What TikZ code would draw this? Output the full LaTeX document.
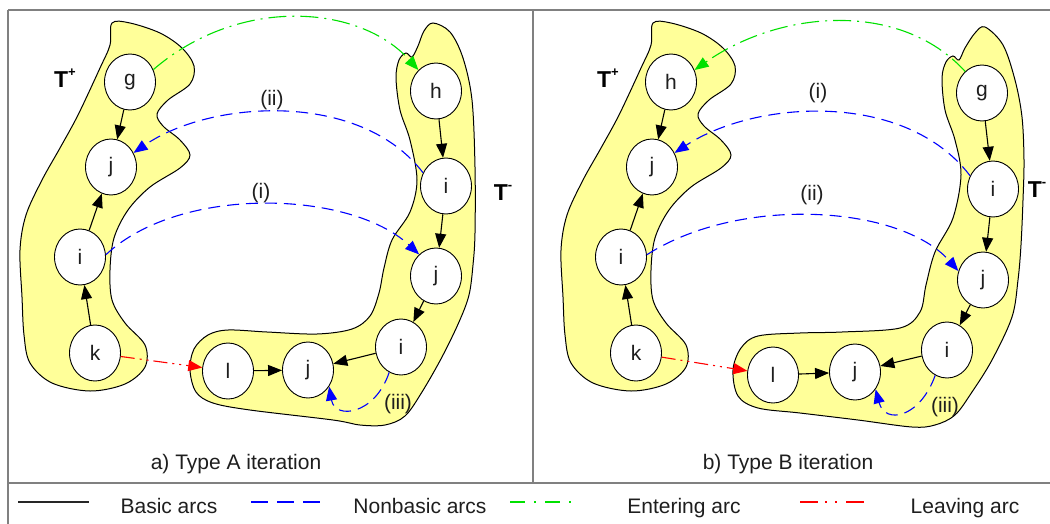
\documentclass[tikz,border=0pt]{standalone}
\usepackage{fontspec}
\setmainfont{Liberation Sans}
\usetikzlibrary{arrows.meta,shapes.geometric}
\definecolor{blobfill}{RGB}{255,255,153}
\definecolor{framegray}{RGB}{128,128,128}
\definecolor{txtc}{RGB}{30,30,30}
\definecolor{arcblue}{RGB}{0,0,255}
\definecolor{arcgreen}{RGB}{0,225,0}
\definecolor{arcred}{RGB}{255,0,0}
\tikzset{
  nd/.style={ellipse, draw, line width=0.9pt, fill=white, minimum width=51pt, minimum height=56pt, inner sep=0pt, font=\fontsize{21}{24}\selectfont, text=txtc},
  blob/.style={draw, line width=1pt, fill=blobfill},
  tip/.style={-{Triangle[length=14pt,width=11pt]}},
  basic/.style={line width=1.1pt, tip},
  nonbasic/.style={line width=1.1pt, arcblue, dash pattern=on 12pt off 7pt, tip},
  entering/.style={line width=1.1pt, arcgreen, dash pattern=on 18pt off 6pt on 2pt off 6pt, tip},
  leaving/.style={line width=1.1pt, arcred, dash pattern=on 14pt off 5pt on 2pt off 5pt on 2pt off 5pt, tip},
  lbl/.style={font=\fontsize{21}{24}\selectfont, text=txtc, inner sep=0pt},
  tlbl/.style={font=\fontsize{23}{24}\selectfont\bfseries, inner sep=0pt},
  frameline/.style={framegray, line width=2pt},
}
\newcommand{\Tplus}{T\raisebox{0.5em}{\fontsize{13}{13}\selectfont\bfseries +}}
\newcommand{\Tminus}{T\raisebox{0.5em}{\fontsize{13}{13}\selectfont\bfseries -}}
\begin{document}
\begin{tikzpicture}[x=1pt,y=-1pt]
\useasboundingbox (0,0) rectangle (1050,523);
% frame
\draw[frameline] (8,10) -- (1052,10);
\draw[frameline] (8,10) -- (8,525);
\draw[frameline] (533,10) -- (533,483);
\draw[frameline] (8,483) -- (1052,483);

% ---------- blobs ----------
\def\tplusblob{(112,23) (130,23) (160,33) (182,48) (194,66) (190,84) (168,100) (157,114) (163,126) (180,140) (190,155) (180,168) (150,187) (128,210) (114,238) (110,270) (112,300) (125,323) (145,345) (145,367) (125,384) (90,391) (52,383) (30,363) (24,335) (22,297) (20,250) (26,215) (42,180) (60,148) (78,115) (100,68) (110,45)}
\path[blob] plot[smooth cycle, tension=0.55] coordinates {\tplusblob};
\begin{scope}[xshift=541pt]
\path[blob] plot[smooth cycle, tension=0.55] coordinates {\tplusblob};
\end{scope}
% left panel T-
\path[blob] plot[smooth cycle, tension=0.55] coordinates {(433,23) (450,32) (463,58) (472,100) (475,167) (475,233) (473,265) (469,295) (459,322) (442,357) (422,392) (405,416) (385,425) (360,425) (333,420) (250,410) (213,403) (196,392) (190,370) (194,349) (208,335) (228,330) (267,332) (317,334) (352,329) (370,316) (379,293) (384,268) (392,240) (410,212) (417,180) (410,140) (400,110) (396,78) (399,60) (406,53) (412,57) (418,46) (424,31)};
% right panel T-
\path[blob] plot[smooth cycle, tension=0.55] coordinates {(985,27) (1003,45) (1015,80) (1022,117) (1024,160) (1023,200) (1021,245) (1018,280) (1012,317) (992,360) (972,392) (955,415) (935,425) (912,427) (858,420) (800,413) (758,408) (738,396) (733,370) (741,348) (758,336) (800,333) (842,332) (900,328) (920,312) (926,285) (935,252) (953,218) (961,175) (955,140) (945,110) (942,78) (946,62) (953,56) (959,60) (965,48) (975,33)};

% ---------- left panel nodes ----------
\node[nd] (ag)  at (130,82)  {g};
\node[nd] (aj1) at (111,167) {j};
\node[nd] (ai1) at (80,257)  {i};
\node[nd] (ak)  at (95,353)  {k};
\node[nd] (ah)  at (436,91)  {h};
\node[nd] (ai2) at (446,186) {i};
\node[nd] (aj2) at (436,276) {j};
\node[nd] (ai3) at (401,347) {i};
\node[nd] (aj3) at (308,370) {j};
\node[nd] (al)  at (228,371) {l};

\draw[basic] (ag) -- (aj1);
\draw[basic] (ai1) -- (aj1);
\draw[basic] (ak) -- (ai1);
\draw[basic] (ah) -- (ai2);
\draw[basic] (ai2) -- (aj2);
\draw[basic] (aj2) -- (ai3);
\draw[basic] (ai3) -- (aj3);
\draw[basic] (al) -- (aj3);

\draw[entering] (ag.28) .. controls (240,-5) and (360,5) .. (ah.130);
\draw[nonbasic] (ai2.150) .. controls (360,90) and (210,100) .. (aj1.32);
\draw[nonbasic] (ai1.5) .. controls (180,185) and (350,190) .. (aj2.128);
\draw[leaving] (ak) -- (al);
\draw[nonbasic] (ai3.-115) .. controls (375,415) and (335,420) .. (aj3.-38);

\node[tlbl] (atp) at (65,78) {\Tplus};
\node[tlbl] (atm) at (503,193) {\Tminus};
\node[lbl] (aii) at (272,100) {(ii)};
\node[lbl] (ai)  at (261,193) {(i)};
\node[lbl] (aiii) at (398,404) {(iii)};
\node[lbl, anchor=base] (acap) at (236,469) {a) Type A iteration};

% ---------- right panel nodes ----------
\node[nd] (bh)  at (671,82)  {h};
\node[nd] (bj1) at (652,167) {j};
\node[nd] (bi1) at (621,257) {i};
\node[nd] (bk)  at (636,353) {k};
\node[nd] (bg)  at (982,93)  {g};
\node[nd] (bi2) at (993,189) {i};
\node[nd] (bj2) at (983,280) {j};
\node[nd] (bi3) at (947,350) {i};
\node[nd] (bj3) at (855,372) {j};
\node[nd] (bl)  at (773,375) {l};

\draw[basic] (bh) -- (bj1);
\draw[basic] (bi1) -- (bj1);
\draw[basic] (bk) -- (bi1);
\draw[basic] (bg) -- (bi2);
\draw[basic] (bi2) -- (bj2);
\draw[basic] (bj2) -- (bi3);
\draw[basic] (bi3) -- (bj3);
\draw[basic] (bl) -- (bj3);

\draw[entering] (bg.128) .. controls (900,0) and (780,10) .. (bh.27);
\draw[nonbasic] (bi2.150) .. controls (905,90) and (755,100) .. (bj1.32);
\draw[nonbasic] (bi1.5) .. controls (740,195) and (900,205) .. (bj2.160);
\draw[leaving] (bk) -- (bl);
\draw[nonbasic] (bi3.-115) .. controls (920,418) and (885,425) .. (bj3.-40);

\node[tlbl] (btp) at (608,78) {\Tplus};
\node[tlbl] (btm) at (1037,190) {\Tminus};
\node[lbl] (bi)   at (818,93) {(i)};
\node[lbl] (bii)  at (812,195) {(ii)};
\node[lbl] (biii) at (945,407) {(iii)};
\node[lbl, anchor=base] (bcap) at (788,469) {b) Type B iteration};

% ---------- legend ----------
\coordinate (l1a) at (18,502);  \coordinate (l1b) at (89,502);
\coordinate (l2a) at (251,502); \coordinate (l2b) at (321,502);
\coordinate (l3a) at (510,502); \coordinate (l3b) at (577,502);
\coordinate (l4a) at (800,502); \coordinate (l4b) at (866,502);
\draw[line width=1.6pt, black!85] (l1a) -- (l1b);
\draw[line width=1.6pt, arcblue, dash pattern=on 17pt off 9pt] (l2a) -- (l2b);
\draw[line width=1.6pt, arcgreen, dash pattern=on 15pt off 9pt on 2pt off 9pt] (l3a) -- (l3b);
\draw[line width=1.6pt, arcred, dash pattern=on 18pt off 7pt on 2pt off 8pt on 2pt off 9pt] (l4a) -- (l4b);
\node[lbl, anchor=base] (t1) at (169,513) {Basic arcs};
\node[lbl, anchor=base] (t2) at (420,513) {Nonbasic arcs};
\node[lbl, anchor=base] (t3) at (684,513) {Entering arc};
\node[lbl, anchor=base] (t4) at (965,513) {Leaving arc};
\end{tikzpicture}
\end{document}
